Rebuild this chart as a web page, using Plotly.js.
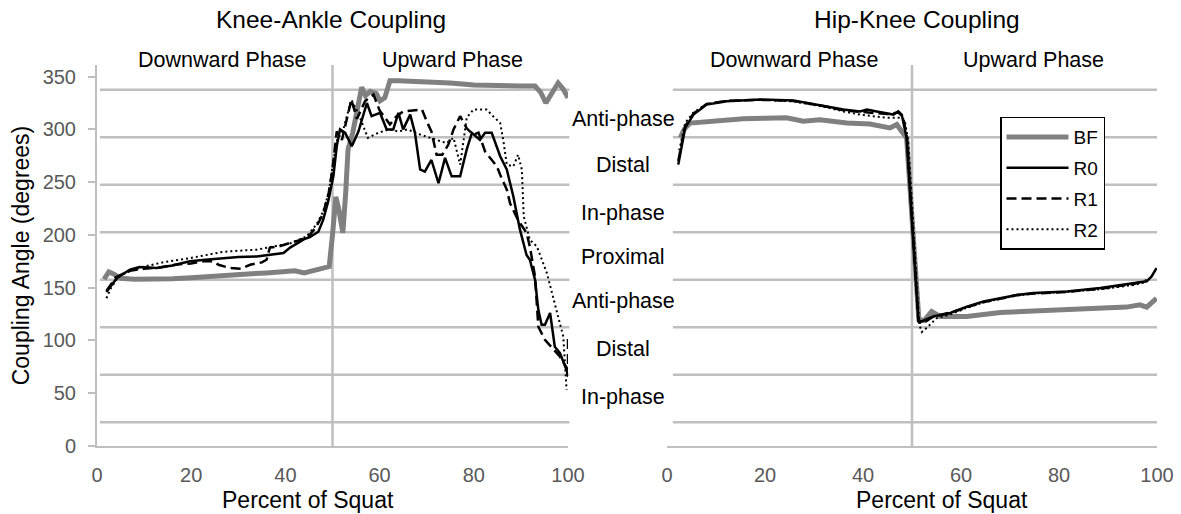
<!DOCTYPE html>
<html><head><meta charset="utf-8">
<script src="https://cdn.plot.ly/plotly-3.0.1.min.js"></script>
<style>html,body{margin:0;padding:0;background:#fff}#chart{width:1181px;height:514px}</style>
</head><body><div id="chart"></div>
<script>
// ---------- data ----------
const xTicks = [0, 20, 40, 60, 80, 100];
const yTicks = [0, 50, 100, 150, 200, 250, 300, 350];
const gridY = [22.5, 67.5, 112.5, 157.5, 202.5, 247.5, 292.5, 337.5];
const phaseSplit = 50;
const zoneLabels = ['Anti-phase', 'Distal', 'In-phase', 'Proximal', 'Anti-phase', 'Distal', 'In-phase'];
const zoneY = [310, 266, 221, 179, 137.6, 92, 46.5];
const seriesNames = ['BF', 'R0', 'R1', 'R2'];

// Knee-Ankle coupling
const knBF_x = [1.5, 2.5, 3.5, 5, 8, 12, 16, 20, 24, 28, 32, 36, 40, 42, 44, 46, 47.5, 48.5, 49.3, 50, 50.7, 51.3, 52.2, 52.8, 53.3, 54.3, 55.3, 56.2, 57, 58, 59.3, 60.1, 61.1, 62.2, 64, 70, 75, 80, 85, 90, 93, 94.2, 95.3, 96.5, 97.9, 99, 100];
const knBF_y = [158, 165, 163, 159, 158, 158, 158.5, 159.5, 161, 162, 163, 164, 166, 166, 164, 166, 167, 168, 170, 200, 236, 225, 202, 240, 281, 297, 320, 340, 332, 336, 334, 327, 330, 346, 346, 345, 344, 342, 341, 341, 341, 335, 325, 333, 344, 338, 330];
const knR0_x = [2, 3, 4.2, 5.5, 7, 9, 12.7, 16, 19.7, 23, 26.8, 30, 33.9, 36.7, 39.6, 41, 42.4, 44, 45.2, 47, 48, 49.1, 50.2, 50.9, 51.6, 52.7, 54.1, 55.5, 57.3, 58.3, 60.1, 61.5, 62.9, 64, 65, 66.5, 67.5, 68.6, 69.6, 71, 72.5, 73.9, 75.3, 77.1, 78.5, 79.6, 81.3, 82.4, 83.8, 85.6, 87, 88.4, 89.8, 91.2, 91.9, 93, 93.7, 94.4, 95.1, 96.2, 97.2, 98.3, 99.7, 100];
const knR0_y = [146, 152, 159, 163, 167, 169.5, 168.6, 171, 175, 176.5, 178, 179, 179.6, 181, 182.8, 188, 192, 196, 198, 203, 214, 232, 256, 284, 300, 296.7, 284, 298, 325, 312.5, 315.6, 300, 300, 315.6, 300, 314, 296.7, 262, 260, 271, 249, 273, 255.5, 255.5, 281, 296.7, 290, 296.7, 296.7, 274.5, 262, 236.5, 205, 181, 176.5, 157.5, 129, 114.8, 114.8, 126, 94, 88, 72, 65.7];
const knR1_x = [2, 4, 7, 10, 13, 17, 20, 22.6, 24.7, 25.8, 28.2, 30.5, 32.5, 35, 36, 36.7, 38.5, 41, 43, 45, 46.6, 48, 49.2, 50, 50.9, 52, 54, 55.2, 56.9, 58.7, 60, 62.2, 63.5, 65, 67.9, 69, 70, 71, 72.1, 73.3, 74.6, 75.7, 77.1, 78.5, 79.9, 81, 82.4, 83.4, 84.9, 85.6, 87, 87.7, 89.4, 91.2, 91.9, 93, 93.7, 95.1, 96.5, 98.3, 100, 100];
const knR1_y = [147, 160, 166, 168, 169, 172, 173, 175, 175, 171.7, 168.6, 168, 171.7, 174, 176.5, 188, 189, 192, 195, 199, 208, 220, 240, 262, 298, 290, 328, 310, 326.7, 333, 318, 304.6, 312, 317, 318.8, 318.8, 307.7, 298, 276, 276, 285.6, 300, 312.5, 301, 295, 297, 279, 273, 265, 257, 243, 230, 214, 202, 189, 160.6, 113, 100.6, 94, 84.7, 72, 104];
const knR2_x = [2, 3, 4.5, 7, 10, 14, 19.7, 23, 26.8, 30, 33.9, 37.4, 41, 44.5, 46.6, 48, 49.2, 50, 51, 52.3, 54, 55.5, 57.5, 59.7, 62, 64, 66, 68, 70.7, 72, 74.2, 75.7, 77.1, 77.8, 78.5, 79.9, 82.7, 84.1, 85.6, 86.3, 87, 88.4, 89.4, 90.2, 90.6, 91.9, 93.4, 95.5, 97.6, 99, 99.7];
const knR2_y = [140, 150, 160, 166, 170, 174, 178, 181, 184, 185, 186, 189, 192, 198.6, 210, 222, 240, 265, 290, 300, 328, 315, 292, 296.7, 300, 298, 300, 296, 292, 290, 287, 292, 266.6, 288.7, 311, 318.8, 318.8, 312.5, 306, 288.7, 266.6, 265, 276, 262, 217.6, 195.4, 189, 164, 129, 103.7, 53];

// Hip-Knee coupling
const hkBF_x = [2.7, 3.5, 4.7, 8.8, 15.6, 20, 24.4, 27.8, 31.2, 36.7, 41.4, 45.5, 46.9, 47.9, 48.9, 51.4, 52.5, 54, 55.7, 61.2, 68, 74.8, 81.6, 88.4, 93.8, 96.5, 97.9, 99.9];
const hkBF_y = [292, 300, 306, 307.7, 310, 310.5, 311, 307.7, 309, 306, 305, 301.4, 304.6, 298, 292, 120, 119, 127.4, 122.7, 122.7, 126.5, 128, 129.6, 130.6, 131.6, 133.8, 131.6, 140];
const hkR0_x = [2.3, 3.7, 5.4, 8.1, 12.2, 19, 25.8, 32.6, 36, 39.4, 40.8, 42.8, 46.2, 47.2, 47.9, 48.9, 51.3, 52, 54.3, 57.8, 61.2, 64.6, 68, 71.4, 74.8, 81.6, 88.4, 95.2, 97.9, 98.9, 99.9];
const hkR0_y = [266.6, 301.4, 314, 323.5, 326.7, 328.3, 327.3, 322, 318.8, 317, 318.8, 317, 314, 317, 314, 292, 119, 118, 122.7, 126, 132, 137, 140, 143, 145, 146.4, 149.6, 154, 156, 160.6, 168.6];
const hkR1_x = [2.3, 3.7, 5.4, 8.1, 12.2, 19, 25.8, 32.6, 36, 39.4, 42, 45, 47.2, 48.2, 49, 51.3, 52.2, 54.5, 58, 61.2, 64.6, 68, 71.4, 74.8, 81.6, 88.4, 95.2, 97.9];
const hkR1_y = [270, 303, 315, 324, 327, 328, 327, 321.5, 318, 316.5, 316, 314.5, 316, 312, 290, 118, 116, 123, 126.5, 131.5, 136.5, 139.5, 143, 144.5, 146, 149, 153.5, 157];
const hkR2_x = [2.5, 3.7, 5.4, 8.1, 12.2, 19, 25.8, 32.6, 36, 39.4, 42, 45, 47.5, 48.5, 49.2, 51.5, 52, 53, 55, 58, 61.2, 64.6, 68, 71.4, 74.8, 81.6, 88.4, 95.2, 97.5];
const hkR2_y = [280, 306, 316, 324, 327, 328, 326.5, 321, 317, 314, 312.5, 311, 311, 309, 290, 115, 108, 112, 121, 125, 131, 136, 139.5, 142.5, 144.5, 146, 148.5, 152.5, 155];

// ---------- styles ----------
const FONT = '"Liberation Sans", Arial, sans-serif';
const GRID = '#bfbfbf';
const TICKC = '#595959';
const styles = {
  BF: {color: '#808080', width: 5, dash: 'solid'},
  R0: {color: '#000000', width: 2.5, dash: 'solid'},
  R1: {color: '#000000', width: 2.5, dash: '10px,5px'},
  R2: {color: '#000000', width: 2, dash: '2px,3px'}
};

const left = {BF: [knBF_x, knBF_y], R0: [knR0_x, knR0_y], R1: [knR1_x, knR1_y], R2: [knR2_x, knR2_y]};
const right = {BF: [hkBF_x, hkBF_y], R0: [hkR0_x, hkR0_y], R1: [hkR1_x, hkR1_y], R2: [hkR2_x, hkR2_y]};

const traces = [];
seriesNames.forEach(n => {
  traces.push({x: left[n][0], y: left[n][1], xaxis: 'x', yaxis: 'y', type: 'scatter', mode: 'lines',
    name: n, legendgroup: n, showlegend: false, line: styles[n], hoverinfo: 'skip'});
});
seriesNames.forEach(n => {
  traces.push({x: right[n][0], y: right[n][1], xaxis: 'x2', yaxis: 'y2', type: 'scatter', mode: 'lines',
    name: n, legendgroup: n, showlegend: true, line: styles[n], hoverinfo: 'skip'});
});

// pixel -> paper helpers (layout only)
const ML = 97, MR = 24, MT = 65, MB = 68, W = 1181, H = 514;
const PW = W - ML - MR, PH = H - MT - MB;
const px = v => (v - ML) / PW;
const py = v => (H - MB - v) / PH;

const shapes = [];
gridY.forEach(g => {
  shapes.push({type: 'line', xref: 'x domain', yref: 'y', x0: 0.006, x1: 1.003, y0: g, y1: g, line: {color: GRID, width: 2.5}, layer: 'below'});
  shapes.push({type: 'line', xref: 'x2 domain', yref: 'y2', x0: 0.012, x1: 1, y0: g, y1: g, line: {color: GRID, width: 2.5}, layer: 'below'});
});
shapes.push({type: 'line', xref: 'x', yref: 'y domain', x0: phaseSplit, x1: phaseSplit, y0: 0, y1: 1, line: {color: GRID, width: 2.5}, layer: 'below'});
shapes.push({type: 'line', xref: 'x2', yref: 'y2 domain', x0: phaseSplit, x1: phaseSplit, y0: 0, y1: 1, line: {color: GRID, width: 2.5}, layer: 'below'});

const ann = (text, x, y, size, extra) => Object.assign({text, x, y, xref: 'paper', yref: 'paper', xanchor: 'center', yanchor: 'middle', showarrow: false, font: {size, color: '#000', family: FONT}}, extra || {});
const annotations = [
  ann('Knee-Ankle Coupling', px(331), py(20), 24.5),
  ann('Hip-Knee Coupling', px(917), py(20), 24.5),
  ann('Downward Phase', px(222), py(60), 21.5),
  ann('Upward Phase', px(452), py(60), 21.5),
  ann('Downward Phase', px(794), py(60), 21.5),
  ann('Upward Phase', px(1033), py(60), 21.5),
  ann('Percent of Squat', px(308), py(500), 23),
  ann('Percent of Squat', px(942), py(500), 23)
];
zoneLabels.forEach((t, i) => {
  annotations.push({text: t, x: px(623), y: zoneY[i], xref: 'paper', yref: 'y', xanchor: 'center', yanchor: 'middle', showarrow: false, font: {size: 21.5, color: '#000', family: FONT}});
});

const xCommon = {range: [0, 100], tickvals: xTicks, showgrid: false, zeroline: false, showline: true, linecolor: GRID, linewidth: 2, ticks: '', tickfont: {size: 20, color: TICKC, family: FONT}, ticklabelstandoff: 10, fixedrange: true};

const layout = {
  width: W, height: H,
  margin: {l: ML, r: MR, t: MT, b: MB, autoexpand: false},
  paper_bgcolor: '#ffffff', plot_bgcolor: 'rgba(0,0,0,0)',
  font: {family: FONT, color: '#000'},
  showlegend: true,
  legend: {x: px(1000), y: py(116.7), xanchor: 'left', yanchor: 'top', bgcolor: '#ffffff', bordercolor: '#000000', borderwidth: 1.5,
    font: {size: 19, color: '#000', family: FONT}, traceorder: 'grouped', tracegroupgap: 3, itemwidth: 62},
  xaxis: Object.assign({}, xCommon, {domain: [0, px(568)], anchor: 'y'}),
  xaxis2: Object.assign({}, xCommon, {domain: [px(667), 1], anchor: 'y2'}),
  yaxis: {domain: [0, 1], anchor: 'x', range: [0, 361], tickvals: yTicks, showgrid: false, zeroline: false, showline: true, linecolor: GRID, linewidth: 2,
    ticks: 'outside', ticklen: 7, tickwidth: 2, tickcolor: GRID, tickfont: {size: 20, color: TICKC, family: FONT}, ticklabelstandoff: 8, fixedrange: true,
    title: {text: 'Coupling Angle (degrees)', font: {size: 23, color: '#000', family: FONT}, standoff: 7}},
  yaxis2: {domain: [0, 1], anchor: 'x2', range: [0, 361], showticklabels: false, showgrid: false, zeroline: false, showline: false, ticks: '', fixedrange: true},
  shapes, annotations
};

Plotly.newPlot('chart', traces, layout, {displayModeBar: false, staticPlot: true});
</script></body></html>
